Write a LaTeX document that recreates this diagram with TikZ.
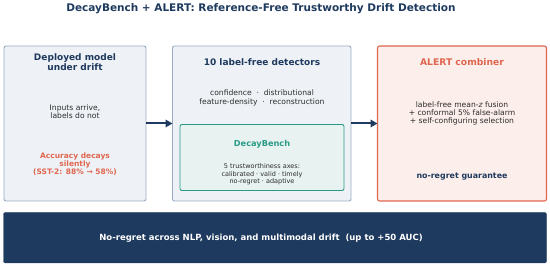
\documentclass[tikz,border=0pt]{standalone}
\usepackage{fontspec}
\setmainfont{DejaVu Sans}
\usetikzlibrary{arrows.meta}
\definecolor{navy}{HTML}{1F3A5F}
\definecolor{graybg}{HTML}{EEF2F6}
\definecolor{grayline}{HTML}{9AAAC0}
\definecolor{coral}{HTML}{E06650}
\definecolor{coralbg}{HTML}{FCEEEA}
\definecolor{teal}{HTML}{2A9A86}
\definecolor{tealbg}{HTML}{E8F3F1}
\definecolor{bodytext}{HTML}{2B2B2B}
\tikzset{
  panel/.style={draw=grayline, fill=graybg, line width=0.9pt, rounded corners=2pt},
  alertpanel/.style={draw=coral, fill=coralbg, line width=1.1pt, rounded corners=2pt},
  benchpanel/.style={draw=teal, fill=tealbg, line width=0.9pt, rounded corners=2pt},
  banner/.style={draw=navy, fill=navy, rounded corners=2pt},
  flow/.style={-{Triangle[length=7pt,width=7.5pt]}, line width=2pt, draw=navy},
  ptitle/.style={font=\fontsize{9}{10}\selectfont\bfseries, text=navy, align=center},
  body/.style={font=\fontsize{7.6}{8.3}\selectfont, text=bodytext, align=center},
  small/.style={font=\fontsize{6.5}{7.5}\selectfont, text=bodytext, align=center},
}
\begin{document}
\begin{tikzpicture}[x=1pt,y=-1pt]
\useasboundingbox (0,0) rectangle (550,267);
\node[font=\fontsize{10.5}{12}\selectfont\bfseries, text=navy] (title) at (261,8.7) {DecayBench + ALERT: Reference-Free Trustworthy Drift Detection};
% panels
\path[panel] (4,46) rectangle (146,201);
\coordinate (p1e) at (146,123.5);
\path[panel] (172.5,46) rectangle (351,201);
\coordinate (p2w) at (172.5,123.5);
\coordinate (p2e) at (351,123.5);
\path[alertpanel] (377.5,46) rectangle (546.5,201);
\coordinate (p3w) at (377.5,123.5);
\path[benchpanel] (180,124.5) rectangle (344,190.5);
% panel 1
\node[ptitle] (t1) at (75,62) {Deployed model\\under drift};
\node[body] (b1) at (75,111.7) {Inputs arrive,\\labels do not};
\node[font=\fontsize{7.5}{8}\selectfont\bfseries, text=coral, align=center] (a1) at (75,163.8) {Accuracy decays\\silently\\(SST-2: 88\% → 58\%)};
% panel 2
\node[ptitle] (t2) at (262,62) {10 label-free detectors};
\node[body] (b2) at (262,98) {confidence \ · \ distributional\\feature-density \ · \ reconstruction};
\node[font=\fontsize{8.2}{9}\selectfont\bfseries, text=teal] (t4) at (262,144) {DecayBench};
\node[small] (b4) at (262,174.5) {5 trustworthiness axes:\\calibrated · valid · timely\\no-regret · adaptive};
% panel 3
\node[font=\fontsize{9.2}{10}\selectfont\bfseries, text=coral] (t3) at (462,62) {ALERT combiner};
\node[body] (b3) at (462,113.3) {label-free mean-\textit{z} fusion\\+ conformal 5\% false-alarm\\+ self-configuring selection};
\node[font=\fontsize{7.9}{9}\selectfont\bfseries, text=navy] (g3) at (462,176.5) {no-regret guarantee};
% arrows
\draw[flow] (p1e) -- (p2w);
\draw[flow] (p2e) -- (p3w);
% banner
\path[banner] (3.5,212.5) rectangle (546.5,263);
\node[font=\fontsize{8.5}{10}\selectfont\bfseries, text=white] (ban) at (261,238) {No-regret across NLP, vision, and multimodal drift \ (up to +50 AUC)};
\end{tikzpicture}
\end{document}
